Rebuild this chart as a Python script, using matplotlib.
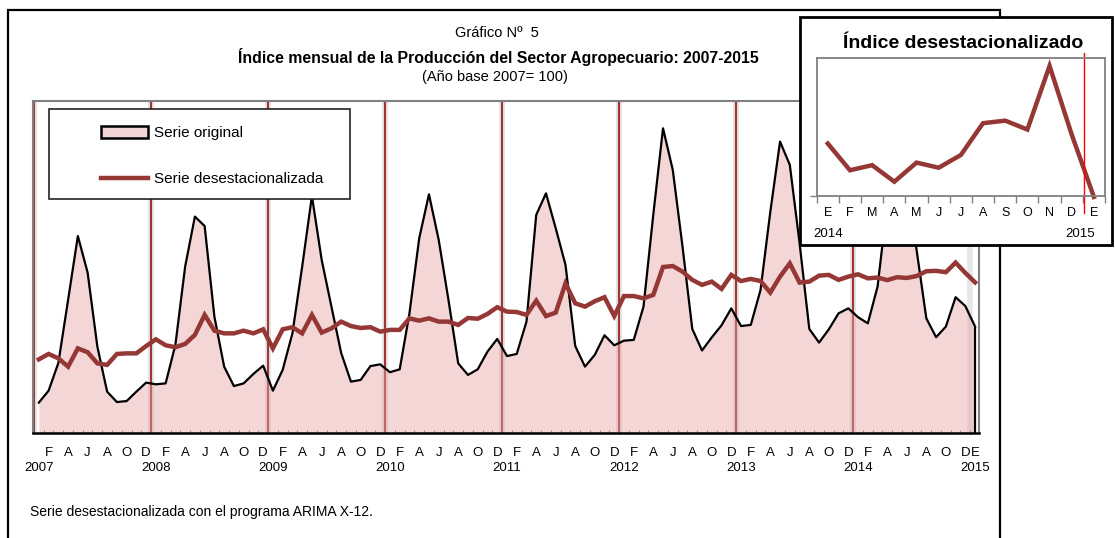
import numpy as np
import matplotlib
matplotlib.use("Agg")
import matplotlib.pyplot as plt
from matplotlib import font_manager
from matplotlib.patches import Rectangle, Patch
from matplotlib.lines import Line2D

# Índice mensual de la producción agropecuaria, ene-2007 a ene-2015 (base 2007=100)
serie_original = [
    75.8, 82.0, 96.4, 129.2, 162.4, 143.4, 104.9, 81.5, 76.1, 76.6, 81.5, 86.2,
    85.3, 85.8, 105.8, 146.5, 172.5, 167.6, 120.5, 94.5, 84.4, 85.8, 90.7, 95.0,
    82.0, 92.8, 111.8, 146.5, 183.2, 150.0, 125.7, 101.6, 86.7, 87.6, 94.8, 95.7,
    91.6, 93.1, 122.2, 161.2, 184.1, 160.4, 129.2, 96.2, 90.2, 93.1, 102.3, 108.9,
    100.0, 101.1, 117.9, 173.4, 184.6, 166.4, 147.4, 105.2, 94.5, 100.6, 110.8, 105.6,
    108.0, 108.4, 125.7, 173.4, 218.4, 196.8, 156.9, 114.1, 102.9, 109.7, 116.0, 124.8,
    115.6, 116.2, 134.4, 174.9, 211.5, 199.4, 158.8, 114.1, 107.0, 113.9, 122.2, 124.8,
    120.2, 117.0, 136.1, 179.6, 207.2, 189.0, 155.2, 119.6, 109.8, 115.3, 130.6, 126.0,
    115.3,
]
serie_desest = [
    98.3, 101.1, 98.8, 94.5, 104.0, 102.0, 96.2, 95.4, 101.1, 101.4, 101.4, 105.2,
    108.7, 105.6, 104.6, 106.3, 111.0, 121.4, 113.2, 111.8, 111.8, 113.2, 111.8, 113.9,
    104.0, 113.9, 115.0, 111.8, 121.4, 112.2, 114.4, 117.9, 115.6, 114.6, 115.0, 112.7,
    113.6, 113.6, 119.6, 118.4, 119.6, 117.9, 117.9, 116.2, 119.8, 119.4, 121.9, 125.4,
    123.1, 122.9, 121.4, 128.8, 120.8, 122.6, 137.8, 127.4, 125.7, 128.5, 130.6, 120.8,
    131.2, 131.2, 130.0, 131.8, 146.3, 146.8, 143.9, 139.6, 137.0, 138.7, 134.9, 142.2,
    139.0, 140.1, 139.0, 133.0, 141.3, 148.2, 138.2, 138.7, 141.8, 142.2, 139.6, 141.3,
    142.5, 140.4, 140.8, 139.5, 141.0, 140.6, 141.6, 144.1, 144.3, 143.6, 148.6, 143.2,
    138.3,
]
meses = ["E", "F", "M", "A", "M", "J", "J", "A", "S", "O", "N", "D"]
anios = ["2007", "2008", "2009", "2010", "2011", "2012", "2013", "2014", "2015"]
anios_recuadro = ["2014", "2015"]

ROJO = "#953735"
ROSA = "#E8A4A4"
LINEA_ANIO = "#A3302E"

available = {f.name for f in font_manager.fontManager.ttflist}
NARROW = "Liberation Sans Narrow" if "Liberation Sans Narrow" in available else "Liberation Sans"
SANS = "Liberation Sans"

fig = plt.figure(figsize=(11.15, 5.38), dpi=100)
W, H = 1115, 538


def fx(px):
    return px / W


def fy(py):
    return 1 - py / H


# marco exterior
fig.patches.append(Rectangle((fx(8), -0.05), fx(1000) - fx(8), fy(10) + 0.05,
                             transform=fig.transFigure, fill=False,
                             edgecolor="black", lw=1.6, zorder=1))

# --- grafico principal ---
ax = fig.add_axes([fx(33), fy(433), fx(979) - fx(33), fy(101) - fy(433)], zorder=0)
x = np.arange(len(serie_original))
ylo, yhi = 60, 232.6

for k in range(len(anios) - 1):
    ax.axvline(12 * k - 0.5, color="#dddddd", lw=4, zorder=0.5)
    ax.axvline(12 * k - 0.5, color=LINEA_ANIO, lw=1.4, zorder=1)
ax.axvline(12 * (len(anios) - 1) - 0.5, color="#e6e6e6", lw=4, zorder=0.5)

ax.fill_between(x, serie_original, ylo, color=ROSA, alpha=0.45, lw=0, zorder=2)
ax.plot(x, serie_original, color="black", lw=1.6, zorder=3)
ax.vlines(x[-1], ylo, serie_original[-1], color="black", lw=1.6, zorder=3)
ax.plot(x, serie_desest, color=ROJO, lw=3.2, zorder=4, solid_joinstyle="miter")

ax.set_xlim(-0.6, 96.4)
ax.set_ylim(ylo, yhi)
ax.set_yticks([])
for s in ["top", "right", "left"]:
    ax.spines[s].set_color("#808080")
    ax.spines[s].set_linewidth(1.5)
ax.spines["bottom"].set_color("black")
ax.spines["bottom"].set_linewidth(1.8)

pos = [i for i in x if i % 2 == 1] + [x[-1]]
lab = [meses[i % 12] for i in pos]
ax.set_xticks(pos)
ax.set_xticklabels(lab, fontsize=9.5, family=NARROW)
ax.tick_params(axis="x", which="major", length=0, pad=10)
ax.set_xticks(np.arange(-0.5, 96, 1), minor=True)
ax.tick_params(axis="x", which="minor", length=2.5, width=0.6, color="#555555", direction="in")

for k, a in enumerate(anios):
    ax.text(12 * k, -0.087, a, transform=ax.get_xaxis_transform(), ha="center",
            va="top", fontsize=9.5, family=NARROW)

# leyenda
ax.add_patch(Rectangle((0.0169, 0.705), 0.318, 0.271, transform=ax.transAxes,
                       facecolor="white", edgecolor="#222222", lw=1.2, zorder=5))
handles = [Patch(facecolor="#F0D6D6", edgecolor="black", lw=1.8),
           Line2D([], [], color=ROJO, lw=3.2)]
leg = ax.legend(handles, ["Serie original", "Serie desestacionalizada"],
                loc="upper left", bbox_to_anchor=(0.072, 0.925), frameon=False,
                prop={"family": NARROW, "size": 11}, handlelength=3.1,
                handleheight=0.8, handletextpad=0.35, labelspacing=2.1,
                borderpad=0, borderaxespad=0)
leg.set_zorder(6)

# titulos
fig.text(fx(497), fy(33), "Gráfico Nº  5", ha="center", va="center",
         fontsize=10.5, family=NARROW)
fig.text(fx(498), fy(57), "Índice mensual de la Producción del Sector Agropecuario: 2007-2015",
         ha="center", va="center", fontsize=11.4, fontweight="bold", family=NARROW)
fig.text(fx(495), fy(77), "(Año base 2007= 100)", ha="center", va="center",
         fontsize=10.5, family=NARROW)
fig.text(fx(30), fy(512), "Serie desestacionalizada con el programa ARIMA X-12.",
         ha="left", va="center", fontsize=10, family=SANS)

# --- recuadro ---
fig.patches.append(Rectangle((fx(800), fy(245)), fx(1112) - fx(800), fy(17) - fy(245),
                             transform=fig.transFigure, facecolor="white",
                             edgecolor="black", lw=2, zorder=2))
fig.text(fx(963), fy(43), "Índice desestacionalizado", ha="center", va="center",
         fontsize=14, fontweight="bold", family=SANS, zorder=4)

ax_in = fig.add_axes([fx(816.7), fy(195.7), fx(1105) - fx(816.7), fy(58.3) - fy(195.7)],
                     zorder=3)
ult = serie_desest[-13:]
xi = np.arange(len(ult))
ax_in.plot(xi, ult, color=ROJO, lw=3.2, clip_on=False, solid_joinstyle="miter")
ax_in.set_xlim(-0.5, 12.5)
ax_in.set_ylim(138.4, 149.2)
for s in ax_in.spines.values():
    s.set_color("#808080")
    s.set_linewidth(1.3)
ax_in.set_xticks(xi)
ax_in.set_xticklabels(meses + ["E"], fontsize=9, family=SANS)
ax_in.tick_params(axis="x", which="major", length=0, pad=8)
ax_in.set_xticks(np.arange(-0.5, 13, 1), minor=True)
ax_in.tick_params(axis="x", which="minor", length=5, width=1, color="#808080")
ax_in.set_yticks([138.4])
ax_in.set_yticklabels([])
ax_in.tick_params(axis="y", length=5, width=1, color="#808080")
ax_in.axvline(11.57, ymin=-0.126, ymax=1.04, color="red", lw=1, clip_on=False)
for xa, a in zip([0, 11.4], anios_recuadro):
    ax_in.text(xa, -0.235, a, transform=ax_in.get_xaxis_transform(), ha="center",
               va="top", fontsize=9.5, family=SANS)

fig.savefig("out.png", dpi=100)
